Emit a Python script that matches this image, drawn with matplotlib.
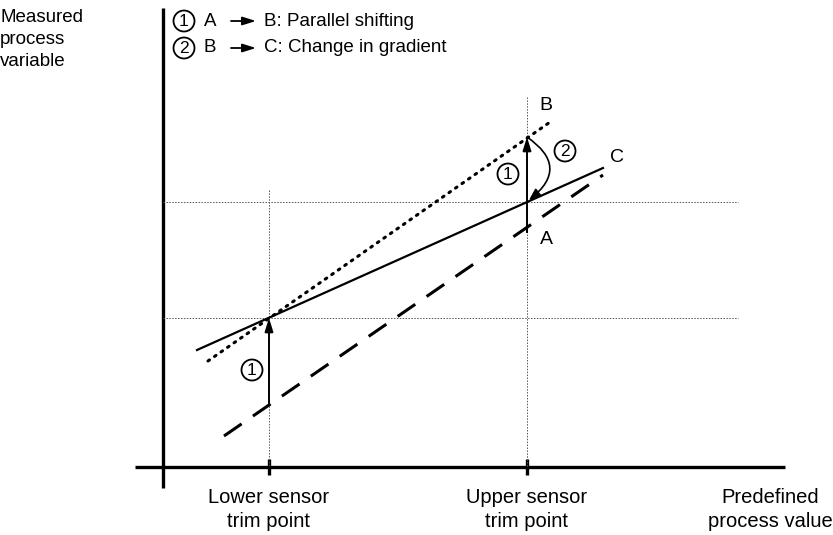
import matplotlib.pyplot as plt
from matplotlib.patches import Circle, FancyArrowPatch

plt.rcParams['font.family'] = ['Liberation Sans', 'DejaVu Sans']

# pixel-like data space (x to the right, y downward)
trim_x = [269, 527]
trim_labels = ['Lower sensor\ntrim point', 'Upper sensor\ntrim point']
level_y = [318, 202]  # measured value at trim points (line C)

c_x, c_y = [197, 603], [350, 168]   # corrected curve C (solid)
b_x, b_y = [208, 553], [361, 120]   # after parallel shift B (dotted)
a_x, a_y = [224, 603], [436, 175]   # original curve A (dashed)
a_at_trim = [405, 227]
b_at_upper = 137

legend_items = ['A', 'B: Parallel shifting', 'B', 'C: Change in gradient']

fig = plt.figure(figsize=(8.33, 5.35), dpi=100, facecolor='white')
ax = fig.add_axes([0, 0, 1, 1])
ax.set_xlim(0, 833)
ax.set_ylim(535, 0)
ax.axis('off')

# axes
ax.plot([163, 163], [8, 488], color='black', lw=2.4, solid_capstyle='butt')
ax.plot([135, 785], [467, 467], color='black', lw=2.4, solid_capstyle='butt')
for x in trim_x:
    ax.plot([x, x], [459, 475], color='black', lw=2.4, solid_capstyle='butt')

# guide lines
grid = dict(color='#555555', lw=0.7, linestyle=(0, (1.5, 1.5)))
ax.plot([trim_x[0], trim_x[0]], [190, 467], **grid)
ax.plot([trim_x[1], trim_x[1]], [97, 467], **grid)
for y in level_y:
    ax.plot([163, 738], [y, y], **grid)

# curves
ax.plot(c_x, c_y, color='black', lw=1.6)
ax.plot(b_x, b_y, color='black', lw=2.2, linestyle=(0, (0.6, 2.0)), dash_capstyle='round')
ax.plot(a_x, a_y, color='black', lw=2.2, linestyle=(0, (7, 4.5)), dash_capstyle='butt')

# shift arrows
head = '-|>,head_length=0.8,head_width=0.25'
for x, y0, y1 in [(trim_x[0], a_at_trim[0], level_y[0]), (trim_x[1], a_at_trim[1], b_at_upper)]:
    ax.annotate('', xy=(x, y1), xytext=(x, y0),
                arrowprops=dict(arrowstyle=head, color='black', lw=1.4, shrinkA=0, shrinkB=0))
ax.plot([trim_x[1], trim_x[1]], [232, a_at_trim[1]], color='black', lw=1.4)

arc = FancyArrowPatch((trim_x[1], b_at_upper), (trim_x[1] + 2, level_y[1] - 2),
                      connectionstyle='arc3,rad=-0.68',
                      arrowstyle='-|>,head_length=7,head_width=3', color='black', lw=1.2,
                      shrinkA=0, shrinkB=0)
ax.add_patch(arc)


def circ(x, y, s):
    ax.add_patch(Circle((x, y), 10.5, fill=False, lw=1.3, color='black'))
    ax.text(x, y + 0.5, s, ha='center', va='center', fontsize=12.5)


circ(252, 370, '1')
circ(508, 174, '1')
circ(565, 151, '2')
circ(184, 21, '1')
circ(184, 48, '2')

# legend text
for i, y in enumerate([21, 48]):
    ax.text(204, y, legend_items[2 * i], ha='left', va='center', fontsize=13.5)
    ax.annotate('', xy=(256, y), xytext=(231, y),
                arrowprops=dict(arrowstyle=head, color='black', lw=1.3, shrinkA=0, shrinkB=0))
    ax.text(264, y, legend_items[2 * i + 1], ha='left', va='center', fontsize=13.5)

# point labels
ax.text(546, 106, 'B', ha='center', va='center', fontsize=14)
ax.text(617, 158, 'C', ha='center', va='center', fontsize=14)
ax.text(546, 239, 'A', ha='center', va='center', fontsize=14)

# axis titles
ax.text(0, 9, 'Measured\nprocess\nvariable', ha='left', va='top', fontsize=13.5, linespacing=1.4)
for x, lab in zip(trim_x, trim_labels):
    ax.text(x, 488, lab, ha='center', va='top', fontsize=14.5, linespacing=1.35)
ax.text(770, 488, 'Predefined\nprocess value', ha='center', va='top', fontsize=14.5, linespacing=1.35)

fig.savefig('out.png', dpi=100, facecolor='white')
